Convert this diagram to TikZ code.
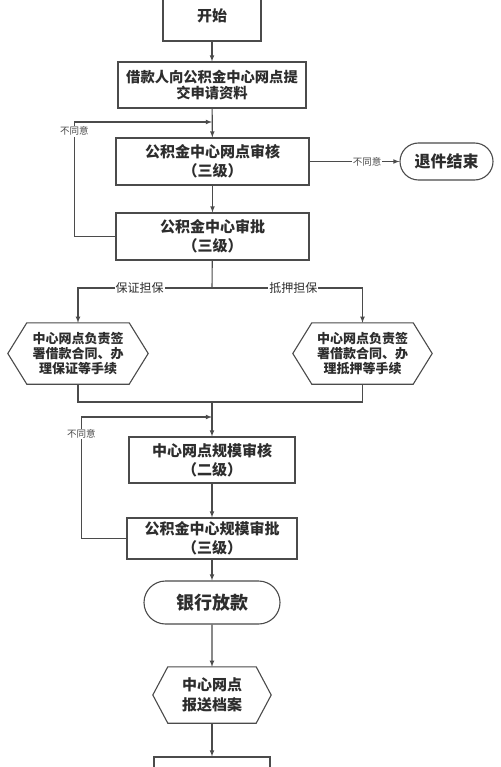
\documentclass[tikz,border=0pt]{standalone}
\usepackage{fontspec}
\setmainfont{Noto Sans CJK SC}
\usetikzlibrary{shapes,arrows,positioning,calc}
\definecolor{linegray}{RGB}{75,75,75}
\definecolor{textgray}{RGB}{45,45,45}

\tikzset{
    box/.style={draw=linegray, rectangle, line width=1.1pt, align=center, text=textgray, inner sep=0pt, font=\bfseries\fontsize{15}{19}\selectfont},
    endbox/.style={draw=linegray, rounded rectangle, line width=1.1pt, text=textgray, inner sep=0pt, font=\bfseries\fontsize{16}{19}\selectfont},
    hexbox/.style={rectangle, align=center, text=textgray, inner sep=0pt, font=\bfseries\fontsize{13}{15}\selectfont},
    note/.style={fill=white, text=linegray, inner sep=1pt, font=\fontsize{9.5}{10}\selectfont},
    branch/.style={fill=white, text=textgray, inner sep=1pt, font=\fontsize{12}{13}\selectfont},
    flow/.style={draw=linegray, line width=1.1pt, >=latex}
}

\begin{document}
\begin{tikzpicture}[x=1pt, y=-1pt]
    \useasboundingbox[fill=white] (0,0) rectangle (500,767);
    % Main column
    \node[box, minimum width=98pt, minimum height=50pt] (start) at (212,16) {开始};
    \node[box, minimum width=188pt, minimum height=46pt, font=\bfseries\fontsize{14.3}{16}\selectfont] (apply) at (212,85) {借款人向公积金中心网点提\\交申请资料};
    \node[box, minimum width=193pt, minimum height=47pt] (check1) at (212.5,161.5) {公积金中心网点审核\\（三级）};
    \node[endbox, minimum width=93pt, minimum height=37pt] (reject) at (446.5,161.5) {退件结束};
    \node[box, minimum width=193pt, minimum height=47pt] (approve1) at (212.5,236.5) {公积金中心审批\\（三级）};
    \node[hexbox, minimum width=140pt, minimum height=61pt] (hexL) at (78,353.5) {中心网点负责签\\署借款合同、办\\理保证等手续};
    \node[hexbox, minimum width=139pt, minimum height=61pt] (hexR) at (362.5,353.5) {中心网点负责签\\署借款合同、办\\理抵押等手续};
    \node[box, minimum width=166pt, minimum height=46pt] (check2) at (212,460) {中心网点规模审核\\（二级）};
    \node[box, minimum width=170pt, minimum height=41pt] (approve2) at (212,538.5) {公积金中心规模审批\\（三级）};
    \node[endbox, minimum width=136pt, minimum height=43pt, font=\bfseries\fontsize{18}{20}\selectfont] (loan) at (212,602.5) {银行放款};
    \node[hexbox, minimum width=118pt, minimum height=56pt, font=\bfseries\fontsize{15}{20}\selectfont] (hexA) at (212,695) {中心网点\\报送档案};
    \node[box, minimum width=116pt, minimum height=40pt] (last) at (212,777) {};

    % Hexagon outlines
    \foreach \h/\d in {hexL/19, hexR/19, hexA/15}
        \draw[flow] ([xshift=\d pt]\h.north west) -- ([xshift=-\d pt]\h.north east) -- (\h.east)
            -- ([xshift=-\d pt]\h.south east) -- ([xshift=\d pt]\h.south west) -- (\h.west) -- cycle;

    % Junctions
    \coordinate (loop1) at (212,122);
    \coordinate (split) at (212,288);
    \coordinate (merge) at (212,402);
    \coordinate (loop2) at (212,417);

    % Connectors
    \draw[flow, ->] (start) -- (apply);
    \draw[flow, ->] (apply) -- (check1);
    \draw[flow, ->] (check1) -- node[note, pos=0.64] {不同意} (reject);
    \draw[flow, ->] (check1) -- (approve1);
    \draw[flow, ->] (approve1.west) -- ++(-41,0) |- node[note, pos=0.46] {不同意} (loop1);
    \draw[flow] (approve1) -- (split);
    \draw[flow, ->] (split) -| node[branch, pos=0.27] {保证担保} (hexL);
    \draw[flow, ->] (split) -| node[branch, pos=0.27] {抵押担保} (hexR);
    \draw[flow] (hexL.south) |- (merge) -| (hexR.south);
    \draw[flow, ->] (merge) -- (check2);
    \draw[flow, ->] (approve2.west) -- ++(-45,0) |- node[note, pos=0.43] {不同意} (loop2);
    \draw[flow, ->] (check2) -- (approve2);
    \draw[flow, ->] (approve2) -- (loan);
    \draw[flow, ->] (loan) -- (hexA);
    \draw[flow, ->] (hexA) -- (last);
\end{tikzpicture}
\end{document}
